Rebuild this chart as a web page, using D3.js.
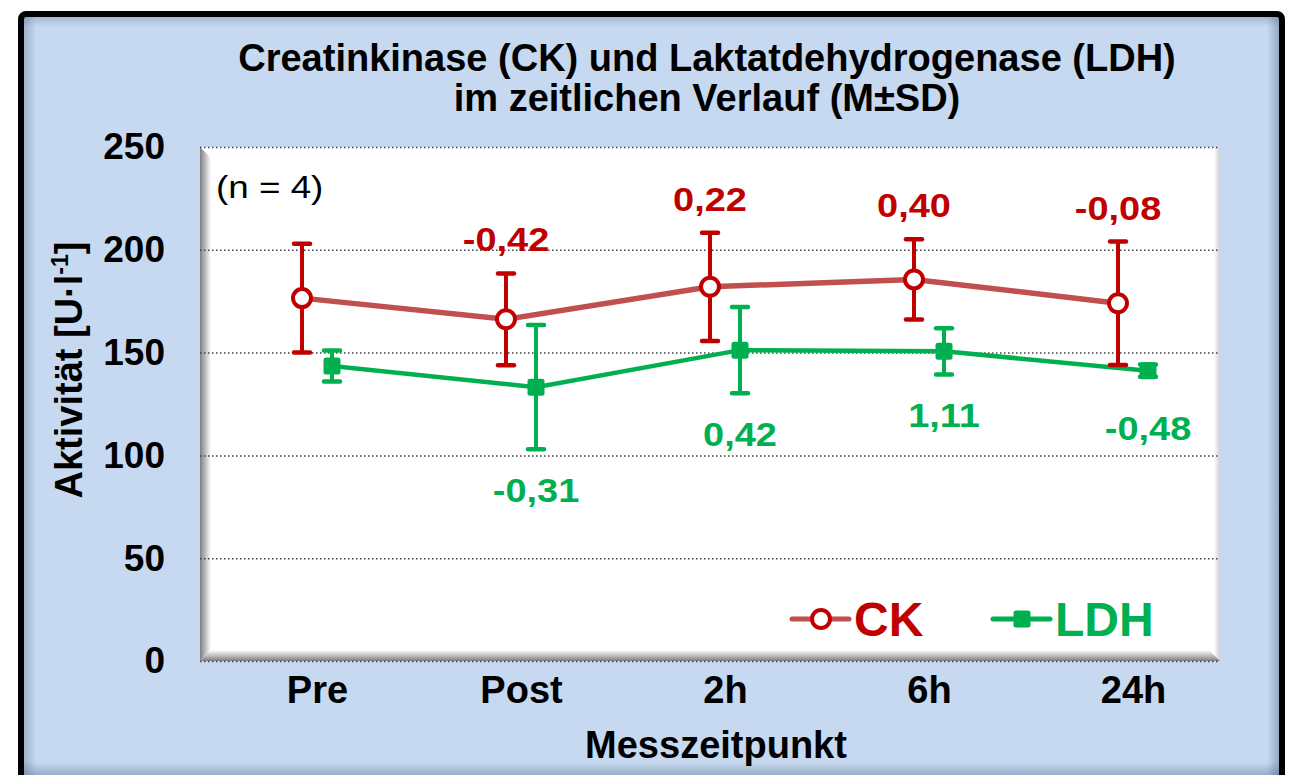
<!DOCTYPE html>
<html>
<head>
<meta charset="utf-8">
<script src="https://cdn.jsdelivr.net/npm/d3@7"></script>
<style>
  body { margin: 0; background: #fff; }
  text { font-family: "Liberation Sans", Arial, sans-serif; }
</style>
</head>
<body>
<script>
// data
var categories = ["Pre", "Post", "2h", "6h", "24h"];
var ckMean = [176.5, 166.2, 182.0, 185.6, 174.0];
var ckSD = [26.5, 22.3, 26.3, 19.5, 30.0];
var ckLabels = ["", "-0,42", "0,22", "0,40", "-0,08"];
var ldhMean = [143.5, 133.2, 151.2, 150.6, 141.2];
var ldhSD = [7.5, 30.2, 21.0, 11.2, 3.0];
var ldhLabels = ["", "-0,31", "0,42", "1,11", "-0,48"];
var yTicks = [0, 50, 100, 150, 200, 250];

var w = 1297, h = 775;
var pLeft = 200, pRight = 1220, pTop = 147, pBottom = 661;

var svg = d3.select("body")
      .append("svg")
      .attr("width", w)
      .attr("height", h);

var defs = svg.append("defs");
function grad(id, x1, y1, x2, y2, stops) {
  var g = defs.append("linearGradient").attr("id", id)
    .attr("x1", x1).attr("y1", y1).attr("x2", x2).attr("y2", y2);
  stops.forEach(function(s) {
    g.append("stop").attr("offset", s[0]).attr("stop-color", s[1]).attr("stop-opacity", s[2]);
  });
}
grad("shL", 0, 0, 1, 0, [[0, "#1f3a60", 0.25], [1, "#1f3a60", 0]]);
grad("shR", 0, 0, 1, 0, [[0, "#1f3a60", 0], [1, "#1f3a60", 0.3]]);
grad("shT", 0, 0, 0, 1, [[0, "#1f3a60", 0.2], [1, "#1f3a60", 0]]);
grad("shB", 0, 0, 0, 1, [[0, "#1f3a60", 0], [1, "#1f3a60", 0.3]]);
grad("bevL", 0, 0, 1, 0, [[0, "#7f7f7f", 1], [1, "#ffffff", 1]]);
grad("bevB", 0, 0, 0, 1, [[0, "#ffffff", 1], [1, "#7f7f7f", 1]]);
grad("bevR", 0, 0, 1, 0, [[0, "#ffffff", 1], [1, "#d0d0d0", 1]]);

// outer chart frame
svg.append("rect")
  .attr("x", 21).attr("y", 14)
  .attr("width", 1261).attr("height", 800)
  .attr("rx", 5)
  .attr("fill", "#c6d9f0");
svg.append("rect").attr("x", 24).attr("y", 17).attr("width", 12).attr("height", 760).attr("fill", "url(#shL)");
svg.append("rect").attr("x", 1267).attr("y", 17).attr("width", 12).attr("height", 760).attr("fill", "url(#shR)");
svg.append("rect").attr("x", 24).attr("y", 17).attr("width", 1255).attr("height", 10).attr("fill", "url(#shT)");
svg.append("rect").attr("x", 24).attr("y", 762).attr("width", 1255).attr("height", 14).attr("fill", "url(#shB)");
svg.append("rect")
  .attr("x", 21).attr("y", 14)
  .attr("width", 1261).attr("height", 800)
  .attr("rx", 5)
  .attr("fill", "none")
  .attr("stroke", "#000")
  .attr("stroke-width", 6);

// title
var title = svg.append("text")
  .attr("text-anchor", "middle")
  .attr("font-weight", "bold")
  .attr("font-size", "38px")
  .attr("fill", "#000");
title.append("tspan").attr("x", 707).attr("y", 71)
  .text("Creatinkinase (CK) und Laktatdehydrogenase (LDH)");
title.append("tspan").attr("x", 707).attr("y", 111)
  .text("im zeitlichen Verlauf (M±SD)");

// scales
var x = d3.scalePoint()
  .domain(categories)
  .range([pLeft + 117, pLeft + 933]);
var y = d3.scaleLinear()
  .domain([0, 250])
  .range([pBottom, pTop]);
var off = 15;

// plot area with bevel
svg.append("rect")
  .attr("x", pLeft).attr("y", pTop)
  .attr("width", pRight - pLeft).attr("height", pBottom - pTop)
  .attr("fill", "#fff");
svg.append("rect").attr("x", pRight - 6).attr("y", pTop).attr("width", 6).attr("height", pBottom - pTop).attr("fill", "url(#bevR)");
svg.append("path")
  .attr("d", "M" + pLeft + "," + pTop + "L" + (pLeft + 11) + "," + (pTop + 11) + "L" + (pLeft + 11) + "," + (pBottom - 11) + "L" + pLeft + "," + pBottom + "Z")
  .attr("fill", "url(#bevL)");
svg.append("path")
  .attr("d", "M" + pLeft + "," + pBottom + "L" + (pLeft + 11) + "," + (pBottom - 11) + "L" + (pRight - 11) + "," + (pBottom - 11) + "L" + pRight + "," + pBottom + "Z")
  .attr("fill", "url(#bevB)");

// gridlines + y ticks
var yAxis = svg.append("g")
  .attr("transform", "translate(" + pLeft + ",0)")
  .call(d3.axisLeft(y).tickValues(yTicks).tickSize(-(pRight - pLeft)).tickPadding(35));
yAxis.select(".domain").remove();
yAxis.selectAll(".tick line")
  .attr("stroke", "#404040")
  .attr("stroke-width", 1.5)
  .attr("stroke-dasharray", "1.5,2.5");
yAxis.selectAll(".tick text")
  .attr("font-family", "'Liberation Sans', Arial, sans-serif")
  .attr("font-size", "37px")
  .attr("font-weight", "bold")
  .attr("fill", "#000");

// x axis labels
var xAxis = svg.append("g")
  .attr("transform", "translate(0," + pBottom + ")")
  .call(d3.axisBottom(x).tickSize(0).tickPadding(15));
xAxis.select(".domain").remove();
xAxis.selectAll(".tick text")
  .attr("font-family", "'Liberation Sans', Arial, sans-serif")
  .attr("font-size", "38px")
  .attr("font-weight", "bold")
  .attr("fill", "#000");

// axis titles
svg.append("text")
  .attr("x", 716).attr("y", 758)
  .attr("text-anchor", "middle")
  .attr("font-weight", "bold")
  .attr("font-size", "38px")
  .text("Messzeitpunkt");
var yt = svg.append("text")
  .attr("transform", "translate(82,370) rotate(-90)")
  .attr("text-anchor", "middle")
  .attr("font-weight", "bold")
  .attr("font-size", "38px");
yt.append("tspan").text("Aktivität [U·l");
yt.append("tspan").attr("dy", -14).attr("font-size", "23px").text("-1");
yt.append("tspan").attr("dy", 14).text("]");

svg.append("text")
  .attr("transform", "translate(216,198) scale(1.15,1)")
  .attr("font-size", "32px")
  .text("(n = 4)");

// lines
var ckLine = d3.line()
  .x(function(d, i) { return x(categories[i]) - off; })
  .y(function(d) { return y(d); });
var ldhLine = d3.line()
  .x(function(d, i) { return x(categories[i]) + off; })
  .y(function(d) { return y(d); });

svg.append("path")
  .attr("d", ldhLine(ldhMean))
  .attr("fill", "none")
  .attr("stroke", "#00b050")
  .attr("stroke-width", 4.5);
svg.append("path")
  .attr("d", ckLine(ckMean))
  .attr("fill", "none")
  .attr("stroke", "#c0504d")
  .attr("stroke-width", 5.5);

function errorBars(mean, sd, dx, color) {
  var g = svg.append("g");
  g.selectAll("line.v")
    .data(mean)
    .enter()
    .append("line")
    .attr("x1", function(d, i) { return x(categories[i]) + dx; })
    .attr("x2", function(d, i) { return x(categories[i]) + dx; })
    .attr("y1", function(d, i) { return y(d + sd[i]); })
    .attr("y2", function(d, i) { return y(d - sd[i]); })
    .attr("stroke", color)
    .attr("stroke-width", 4);
  [1, -1].forEach(function(s) {
    g.selectAll("line.c" + s)
      .data(mean)
      .enter()
      .append("line")
      .attr("x1", function(d, i) { return x(categories[i]) + dx - 8; })
      .attr("x2", function(d, i) { return x(categories[i]) + dx + 8; })
      .attr("y1", function(d, i) { return y(d + s * sd[i]); })
      .attr("y2", function(d, i) { return y(d + s * sd[i]); })
      .attr("stroke", color)
      .attr("stroke-width", 4.5)
      .attr("stroke-linecap", "round");
  });
}
errorBars(ldhMean, ldhSD, off, "#00b050");
errorBars(ckMean, ckSD, -off, "#c00000");

// markers
svg.selectAll(".ldhpt")
  .data(ldhMean)
  .enter()
  .append("rect")
  .attr("x", function(d, i) { return x(categories[i]) + off - 8.5; })
  .attr("y", function(d) { return y(d) - 8.5; })
  .attr("width", 17).attr("height", 17)
  .attr("rx", 2.5)
  .attr("fill", "#00b050");
svg.selectAll(".ckpt")
  .data(ckMean)
  .enter()
  .append("circle")
  .attr("cx", function(d, i) { return x(categories[i]) - off; })
  .attr("cy", function(d) { return y(d); })
  .attr("r", 9)
  .attr("fill", "#fff")
  .attr("stroke", "#c00000")
  .attr("stroke-width", 4);

// value labels (slightly wide, like the original)
svg.selectAll(".cklab")
  .data(ckLabels)
  .enter()
  .append("text")
  .text(function(d) { return d; })
  .attr("text-anchor", "middle")
  .attr("transform", function(d, i) {
    return "translate(" + (x(categories[i]) - off) + "," + (y(ckMean[i] + ckSD[i]) - 22) + ") scale(1.15,1)";
  })
  .attr("font-size", "33px")
  .attr("font-weight", "bold")
  .attr("fill", "#c00000");
svg.selectAll(".ldhlab")
  .data(ldhLabels)
  .enter()
  .append("text")
  .text(function(d) { return d; })
  .attr("text-anchor", "middle")
  .attr("transform", function(d, i) {
    return "translate(" + (x(categories[i]) + off) + "," + (y(ldhMean[i] - Math.max(ldhSD[i], 8)) + 53) + ") scale(1.15,1)";
  })
  .attr("font-size", "33px")
  .attr("font-weight", "bold")
  .attr("fill", "#00b050");

// legend
var legend = [
  {name: "CK", x: 792, line: "#c0504d", color: "#c00000"},
  {name: "LDH", x: 993, line: "#00b050", color: "#00b050"}
];
var lg = svg.selectAll(".leg")
  .data(legend)
  .enter()
  .append("g")
  .attr("transform", function(d) { return "translate(" + d.x + ",619)"; });
lg.append("line")
  .attr("x1", 0).attr("x2", 57)
  .attr("stroke", function(d) { return d.line; })
  .attr("stroke-width", 5)
  .attr("stroke-linecap", "round");
lg.filter(function(d) { return d.name == "CK"; })
  .append("circle")
  .attr("cx", 29).attr("r", 9)
  .attr("fill", "#fff").attr("stroke", "#c00000").attr("stroke-width", 4);
lg.filter(function(d) { return d.name == "LDH"; })
  .append("rect")
  .attr("x", 20.5).attr("y", -8.5).attr("width", 17).attr("height", 17).attr("rx", 2.5)
  .attr("fill", "#00b050");
lg.append("text")
  .attr("x", 62).attr("y", 17)
  .attr("font-size", "48px")
  .attr("font-weight", "bold")
  .attr("fill", function(d) { return d.color; })
  .text(function(d) { return d.name; });
</script>
</body>
</html>
